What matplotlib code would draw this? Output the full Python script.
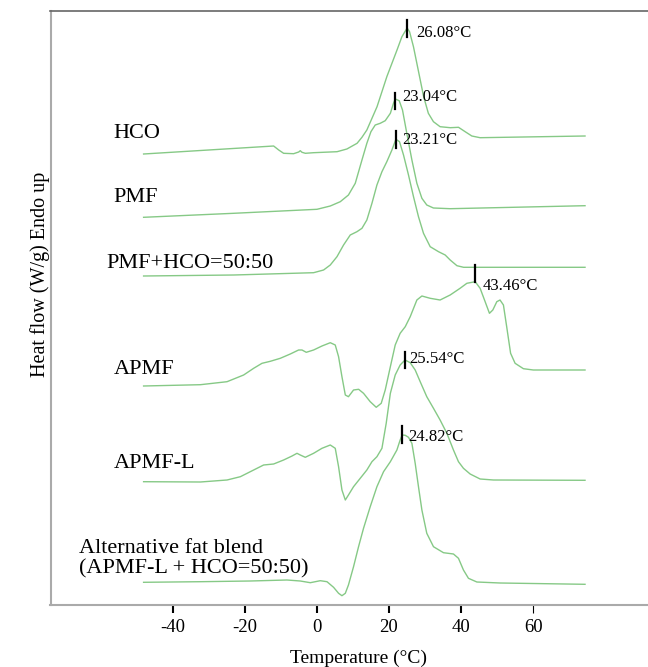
import numpy as np
import matplotlib.pyplot as plt

# serif font like the original figure
plt.rcParams['font.family'] = 'Liberation Serif'
plt.rcParams['axes.unicode_minus'] = False

# sample names and labelled peak temperatures (°C)
names = ['HCO', 'PMF', 'PMF+HCO=50:50', 'APMF', 'APMF-L',
         'Alternative fat blend\n(APMF-L + HCO=50:50)']
peak_temps = [26.08, 23.04, 23.21, 43.46, 25.54, 24.82]

# DSC melting curves (temperature, stacked heat flow)
hco_t = [-41.2, -8.0, -6.7, -5.45, -2.9, -1.6, -1.2, -0.76, 0.1, 2.2, 8.2, 10.7, 13.3,
         14.55, 15.8, 18.4, 20.9, 23.5, 24.75, 26.08, 26.7, 27.7, 29.0, 30.3, 31.5,
         32.8, 34.5, 37.1, 39.2, 40.9, 42.6, 44.7, 71.5]
hco_y = [451, 459, 455, 451.7, 451.3, 453, 454.3, 452.7, 451.7, 452.3, 453.3, 456, 461.7,
         467.7, 475, 498.3, 528.3, 555, 568.3, 577, 573.3, 558.3, 533.3, 508.3, 491.7,
         483.3, 478.3, 477.3, 477.7, 473.3, 469, 467.3, 469]

pmf_t = [-41.2, -18.2, 3.07, 6.46, 9.01, 11.1, 12.84, 14.55, 15.8, 16.84, 17.94, 19.21,
         20.49, 21.8, 22.6, 23.04, 24.06, 24.9, 26.0, 27.3, 28.57, 29.85, 31.1, 32.8,
         37.07, 71.5]
pmf_y = [387.7, 391.7, 395.7, 399, 403.3, 410, 421.7, 445, 461.7, 473.3, 480, 481.7,
         484.3, 491.7, 501.7, 506, 504.3, 495, 471.7, 445, 421.7, 406.7, 400, 397,
         396.3, 399.3]

mix_t = [-41.2, -18.2, 2.2, 4.75, 6.46, 8.17, 9.85, 11.56, 13.27, 14.55, 15.8, 17.1,
         18.37, 19.65, 20.9, 22.2, 23.21, 24.14, 25.16, 26.43, 27.71, 28.98, 30.26,
         31.97, 34.1, 35.8, 37.07, 38.8, 40.5, 71.5]
mix_y = [329, 330, 332.3, 335, 340, 348.3, 360, 370, 373.3, 376.7, 385, 401.7,
         420, 433.3, 443.3, 455, 465.7, 463.3, 450, 430, 408.3, 388.3, 371.7,
         358.3, 353.3, 350, 345, 339.3, 337.7, 337.7]

apmf_t = [-41.2, -26.7, -19.9, -15.66, -13.1, -10.97, -8.85, -6.3, -3.75, -1.63, -0.76,
          0.33, 2.2, 4.34, 6.46, 7.73, 8.58, 9.44, 10.3, 11.1, 12.4, 13.7, 14.95, 16.66,
          18.19, 19.47, 20.49, 21.8, 23.04, 24.3, 25.6, 26.87, 28.57, 29.85, 31.97, 34.5,
          37.07, 39.6, 41.33, 43.46, 44.72, 46.0, 47.1, 47.96, 48.98, 49.8, 50.67, 51.5,
          52.5, 53.65, 55.77, 58.3, 71.5]
apmf_y = [219, 220.3, 223.3, 230, 236.7, 241.7, 243.7, 246.7, 251, 255, 255,
          252.7, 255, 259, 262.3, 260, 248.3, 228.3, 210, 208.3, 215, 215.7, 211.7, 203.3,
          197.7, 201.7, 215, 238.3, 260, 271.7, 278.3, 288.3, 305, 309, 306.7, 305,
          310, 316.7, 321.7, 323.3, 316.7, 303.3, 291.7, 295, 303.3, 305, 300, 278.3,
          251.7, 241.7, 236.3, 235, 235]

apmfl_t = [-41.2, -26.7, -19.9, -16.5, -13.1, -10.56, -8.0, -5.45, -3.3, -2.04, -1.2,
           0.08, 2.2, 4.34, 6.46, 7.73, 8.58, 9.44, 10.3, 11.1, 12.4, 14.11, 15.8, 17.1,
           18.37, 19.65, 20.74, 21.8, 23.04, 24.3, 25.54, 26.87, 28.14, 29.42, 31.1,
           32.81, 34.5, 36.23, 37.91, 39.19, 40.46, 42.17, 44.72, 48.12, 71.5]
apmfl_y = [123.3, 123, 125, 128.3, 135, 140, 141, 145, 149, 151.7, 150,
           147.7, 151.7, 156.7, 160, 156.7, 138.3, 115, 105, 110, 118.3, 126.7, 135, 143.3,
           148.3, 156.7, 181.7, 211.7, 230, 240, 245, 242.3, 235, 223.3, 208.3,
           196.7, 185, 171.7, 155, 143.3, 136.7, 131, 126, 125, 124.7]

blend_t = [-41.2, -26.7, -13.95, -4.6, -1.2, 1.36, 3.91, 5.62, 7.3, 8.58, 9.44, 10.3,
           11.1, 12.4, 13.68, 14.95, 16.66, 18.37, 20.06, 21.8, 23.47, 24.3, 24.82, 25.6,
           26.43, 27.3, 28.14, 28.98, 29.85, 31.1, 32.81, 35.36, 37.91, 39.19, 40.46,
           41.74, 43.88, 49.8, 71.5]
blend_y = [22.7, 23.3, 24, 25, 24, 22.3, 24.3, 23.3, 17.7, 11.7, 9.3, 11.7,
           20, 38.3, 58.3, 76.7, 98.3, 118.3, 133.3, 143.3, 155, 165, 170, 169.7,
           167.7, 161.7, 141.7, 118.3, 95, 71.7, 58.3, 52.3, 51, 46.7, 35,
           26.7, 23, 22, 20.7]

curves_t = [hco_t, pmf_t, mix_t, apmf_t, apmfl_t, blend_t]
curves_y = [hco_y, pmf_y, mix_y, apmf_y, apmfl_y, blend_y]

# x axis tick labels
tick_vals = [-40, -20, 0, 20, 40, 60]

# layout bits (not data): name label anchors, peak-marker extents, peak text offsets
name_pos = [(-48.9, 472), (-48.9, 407), (-50.7, 342), (-48.9, 236), (-48.9, 142), (-57.8, 46.5)]
mark_span = [(-9, 8), (-10, 6), (-9, 8), (0, 17), (-8, 8), (-8, 9)]
text_off = [(6.5, -3.5), (5, 1.5), (4.5, -0.5), (5, -3), (3, 1), (4.5, -1.5)]

fig = plt.figure(figsize=(6.48, 6.67), dpi=100)
ax = fig.add_axes([50.5 / 648, 62 / 667, 1 - 50.5 / 648, 594 / 667])

green = '#86c986'
for t, y in zip(curves_t, curves_y):
    ax.plot(t, y, color=green, lw=1.0, solid_joinstyle='round')

# peak markers with temperatures
for i, tp in enumerate(peak_temps):
    yp = np.interp(tp, curves_t[i], curves_y[i])
    lo, hi = mark_span[i]
    ax.plot([tp, tp], [yp + lo, yp + hi], color='black', lw=1.6)
    ax.annotate(f'{tp:.2f}°C', xy=(tp, yp), xytext=text_off[i], textcoords='offset points',
                ha='left', va='center', fontsize=12)

# sample names
for name, (x, y) in zip(names, name_pos):
    ax.text(x, y, name, ha='left', va='center', fontsize=16, linespacing=1.1)

ax.set_xlim(-64.97, 87.58)
ax.set_ylim(0, 594)
ax.set_yticks([])
ax.tick_params(axis='x', bottom=False, labelbottom=False)
ax.spines['right'].set_visible(False)
ax.spines['top'].set_color('#666666')
ax.spines['top'].set_linewidth(1.2)
for s in ['left', 'bottom']:
    ax.spines[s].set_color('#aaaaaa')
    ax.spines[s].set_linewidth(1.5)

# temperature scale printed on the bottom axis
sec = ax.secondary_xaxis('bottom', functions=(lambda T: 1.0862 * T - 3.28,
                                               lambda t: (t + 3.28) / 1.0862))
sec.set_xticks(tick_vals)
sec.spines['bottom'].set_visible(False)
sec.tick_params(direction='out', length=6, width=1.5, color='black', labelsize=13.5, pad=4)
last = sec.xaxis.get_major_ticks()[len(tick_vals) - 1]
last.tick1line.set_color('#666666')
last.tick1line.set_markeredgewidth(0.8)

fig.text(358 / 648, 1 - 658 / 667, 'Temperature (°C)', ha='center', va='center', fontsize=14)
fig.text(40 / 648, 1 - 274 / 667, 'Heat flow (W/g) Endo up', ha='center', va='center',
         rotation=90, fontsize=14.5)

fig.savefig('out.png', dpi=100)
